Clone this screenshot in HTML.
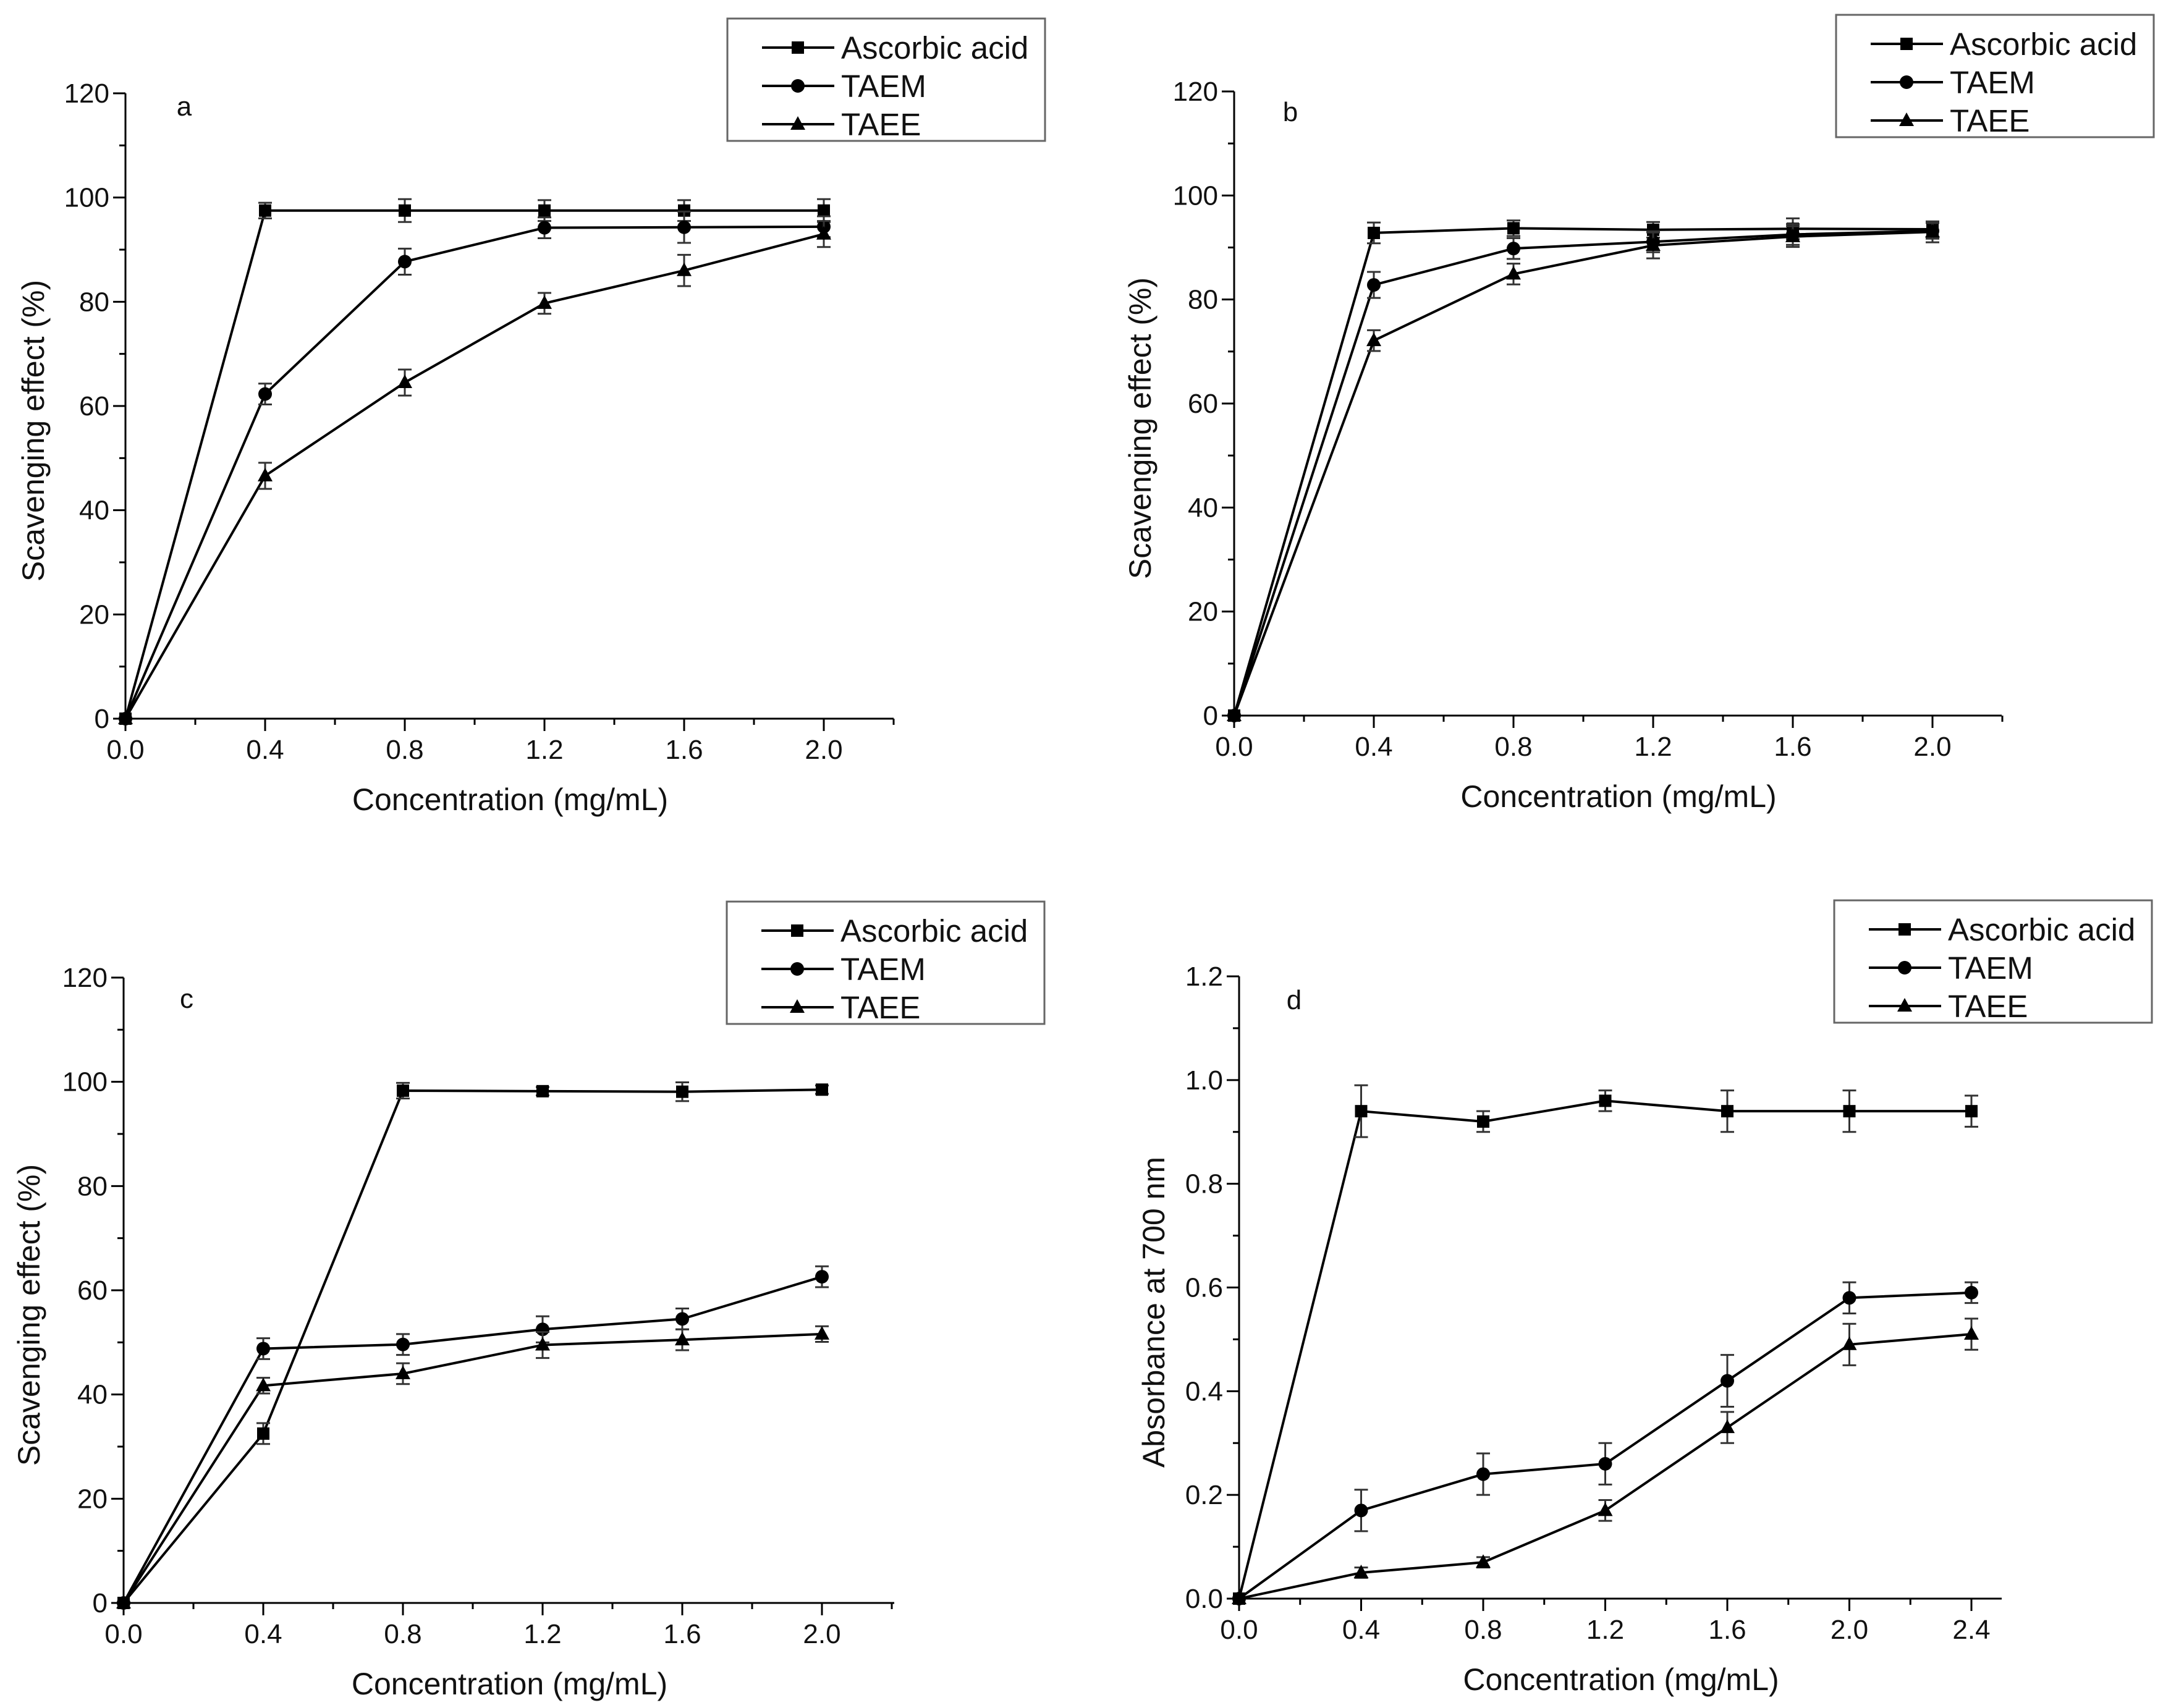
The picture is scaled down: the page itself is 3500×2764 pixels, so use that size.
<!DOCTYPE html>
<html><head><meta charset="utf-8">
<style>
html,body{margin:0;padding:0;background:#fff;}
svg{display:block;font-family:"Liberation Sans",Arial,sans-serif;}
</style></head>
<body>
<svg id="fig" width="3500" height="2764" viewBox="0 0 3500 2764" xmlns="http://www.w3.org/2000/svg">
<rect x="0" y="0" width="3500" height="2764" fill="#fff"/>
</svg>
<script>
// ---- Data ----
const xA = [0, 0.4, 0.8, 1.2, 1.6, 2.0];
const xD = [0, 0.4, 0.8, 1.2, 1.6, 2.0, 2.4];
const seriesNames = ["Ascorbic acid", "TAEM", "TAEE"];

const aAscorbic = [0, 97.5, 97.5, 97.5, 97.5, 97.5];
const aAscorbicErr = [0, 1.5, 2.2, 2.0, 2.0, 2.2];
const aTAEM = [0, 62.3, 87.7, 94.2, 94.3, 94.4];
const aTAEMErr = [0, 2.0, 2.5, 2.0, 3.0, 2.0];
const aTAEE = [0, 46.6, 64.5, 79.7, 86.0, 93.0];
const aTAEEErr = [0, 2.5, 2.5, 2.0, 3.0, 2.5];

const bAscorbic = [0, 92.8, 93.7, 93.4, 93.6, 93.5];
const bAscorbicErr = [0, 2.0, 1.5, 1.5, 2.0, 1.5];
const bTAEM = [0, 82.8, 89.8, 91.1, 92.5, 93.2];
const bTAEMErr = [0, 2.5, 2.0, 2.0, 2.0, 1.5];
const bTAEE = [0, 72.1, 84.9, 90.4, 92.1, 93.0];
const bTAEEErr = [0, 2.0, 2.0, 2.5, 2.0, 2.0];

const cAscorbic = [0, 32.5, 98.3, 98.2, 98.1, 98.5];
const cAscorbicErr = [0, 2.0, 1.5, 0.8, 1.8, 0.8];
const cTAEM = [0, 48.8, 49.6, 52.5, 54.5, 62.6];
const cTAEMErr = [0, 2.0, 2.0, 2.5, 2.0, 2.0];
const cTAEE = [0, 41.7, 44.0, 49.5, 50.5, 51.6];
const cTAEEErr = [0, 1.5, 2.0, 2.5, 2.0, 1.5];

const dAscorbic = [0, 0.94, 0.92, 0.96, 0.94, 0.94, 0.94];
const dAscorbicErr = [0, 0.05, 0.02, 0.02, 0.04, 0.04, 0.03];
const dTAEM = [0, 0.17, 0.24, 0.26, 0.42, 0.58, 0.59];
const dTAEMErr = [0, 0.04, 0.04, 0.04, 0.05, 0.03, 0.02];
const dTAEE = [0, 0.05, 0.07, 0.17, 0.33, 0.49, 0.51];
const dTAEEErr = [0, 0.01, 0.01, 0.02, 0.03, 0.04, 0.03];

const xTicksA = ["0.0","0.4","0.8","1.2","1.6","2.0"];
const xTicksD = ["0.0","0.4","0.8","1.2","1.6","2.0","2.4"];
const yTicksPct = ["0","20","40","60","80","100","120"];
const yTicksAbs = ["0.0","0.2","0.4","0.6","0.8","1.0","1.2"];

const NS = "http://www.w3.org/2000/svg";
const fig = document.getElementById('fig');
function mk(tag, attrs, parent){
  const e = document.createElementNS(NS, tag);
  for (const k in attrs) e.setAttribute(k, attrs[k]);
  (parent||fig).appendChild(e);
  return e;
}

function marker(g, kind, cx, cy){
  let m;
  if (kind === 0) m = mk('rect', {x:cx-10, y:cy-10, width:20, height:20, fill:'#000'}, g);
  else if (kind === 1) m = mk('circle', {cx:cx, cy:cy, r:11, fill:'#000'}, g);
  else m = mk('polygon', {points:`${cx},${cy-13} ${cx+12},${cy+9} ${cx-12},${cy+9}`, fill:'#000'}, g);
  return m;
}

function panel(p){
  const g = mk('g', {});
  
  
  const sx = v => p.x0 + (v - 0) / p.xStep * p.xPix;
  const sy = v => p.y0 - v / p.yMax * (p.y0 - p.yTop);
  const ax = mk('g', {}, g);
  
  
  mk('line', {x1:p.x0, y1:p.y0, x2:p.xEnd, y2:p.y0, stroke:'#000', 'stroke-width':3}, ax);
  mk('line', {x1:p.x0, y1:p.y0, x2:p.x0, y2:p.yTop, stroke:'#000', 'stroke-width':3}, ax);
  const nMinorX = Math.round((p.xEnd - p.x0) / (p.xPix / 2));
  for (let i = 0; i <= nMinorX; i++){
    const x = p.x0 + i * p.xPix / 2;
    mk('line', {x1:x, y1:p.y0, x2:x, y2:p.y0 + (i % 2 === 0 ? 20 : 10), stroke:'#000', 'stroke-width':3}, ax);
  }
  p.xTicks.forEach((t, i) => {
    const tx = mk('text', {x:sx(i*p.xStep), y:p.y0 + 65, 'font-size':44, 'text-anchor':'middle', fill:'#111'}, ax);
    
    
    tx.textContent = t;
  });
  for (let i = 0; i <= 12; i++){
    const y = p.y0 - i * (p.y0 - p.yTop) / 12;
    mk('line', {x1:p.x0, y1:y, x2:p.x0 - (i % 2 === 0 ? 20 : 10), y2:y, stroke:'#000', 'stroke-width':3}, ax);
  }
  p.yTicks.forEach((t, i) => {
    const ty = mk('text', {x:p.x0 - 26, y:p.y0 - i * (p.y0 - p.yTop) / 6 + 15, 'font-size':44, 'text-anchor':'end', fill:'#111'}, ax);
    
    
    ty.textContent = t;
  });
  const xt = mk('text', {x:(p.x0 + p.xEnd) / 2 + 1, y:p.y0 + 148, 'font-size':50, 'text-anchor':'middle', fill:'#111'}, g);
  
  
  xt.textContent = 'Concentration (mg/mL)';
  const ycy = (p.y0 + p.yTop) / 2 + 40;
  const yt = mk('text', {x:p.ytx, y:ycy, 'font-size':50, 'text-anchor':'middle', fill:'#111', transform:`rotate(-90 ${p.ytx} ${ycy})`, dy:17}, g);
  
  
  yt.textContent = p.yTitle;
  const pl = mk('text', {x:p.lx, y:p.ly + 15, 'font-size':44, 'text-anchor':'middle', fill:'#111'}, g);
  
  
  pl.textContent = p.label;
  p.series.forEach((s, k) => {
    const sg = mk('g', {}, g);
    
    
    const pts = s.v.map((v, i) => `${sx(p.xs[i])},${sy(v)}`).join(' ');
    mk('polyline', {points:pts, fill:'none', stroke:'#000', 'stroke-width':4, 'stroke-linejoin':'round'}, sg);
    s.v.forEach((v, i) => {
      const cx = sx(p.xs[i]), cy = sy(v);
      const e = s.e[i];
      if (e > 0){
        const eb = mk('path', {d:`M${cx},${sy(v-e)}V${sy(v+e)}M${cx-11},${sy(v+e)}H${cx+11}M${cx-11},${sy(v-e)}H${cx+11}`, stroke:'#333', 'stroke-width':3, fill:'none'}, sg);
        
        
      }
      const m = marker(sg, k, cx, cy);
      
      
    });
  });
  const lg = mk('g', {}, g);
  
  
  mk('rect', {x:p.legX, y:p.legY, width:514, height:198, fill:'#fff', stroke:'#666', 'stroke-width':3}, lg);
  seriesNames.forEach((n, k) => {
    const ry = p.legY + 47 + k * 62;
    const en = mk('g', {}, lg);
    
    
    mk('line', {x1:p.legX + 56, y1:ry, x2:p.legX + 173, y2:ry, stroke:'#000', 'stroke-width':4}, en);
    marker(en, k, p.legX + 114, ry);
    const t = mk('text', {x:p.legX + 184, y:ry + 18, 'font-size':51, fill:'#111'}, en);
    t.textContent = n;
  });
}

panel({label:'a', x0:203, xEnd:1446, xPix:226, xStep:0.4, y0:1163, yTop:151, yMax:120,
  xs:xA, xTicks:xTicksA, yTicks:yTicksPct, yTitle:'Scavenging effect (%)', ytx:54, lx:298, ly:172,
  legX:1177, legY:30,
  series:[{v:aAscorbic,e:aAscorbicErr},{v:aTAEM,e:aTAEMErr},{v:aTAEE,e:aTAEEErr}]});
panel({label:'b', x0:1997, xEnd:3239, xPix:226, xStep:0.4, y0:1158, yTop:148, yMax:120,
  xs:xA, xTicks:xTicksA, yTicks:yTicksPct, yTitle:'Scavenging effect (%)', ytx:1845, lx:2088, ly:181,
  legX:2971, legY:24,
  series:[{v:bAscorbic,e:bAscorbicErr},{v:bTAEM,e:bTAEMErr},{v:bTAEE,e:bTAEEErr}]});
panel({label:'c', x0:200, xEnd:1447, xPix:226, xStep:0.4, y0:2594, yTop:1582, yMax:120,
  xs:xA, xTicks:xTicksA, yTicks:yTicksPct, yTitle:'Scavenging effect (%)', ytx:47, lx:302, ly:1616,
  legX:1176, legY:1459,
  series:[{v:cAscorbic,e:cAscorbicErr},{v:cTAEM,e:cTAEMErr},{v:cTAEE,e:cTAEEErr}]});
panel({label:'d', x0:2005, xEnd:3239, xPix:197.5, xStep:0.4, y0:2587, yTop:1580, yMax:1.2,
  xs:xD, xTicks:xTicksD, yTicks:yTicksAbs, yTitle:'Absorbance at 700 nm', ytx:1867, lx:2094, ly:1618,
  legX:2968, legY:1457,
  series:[{v:dAscorbic,e:dAscorbicErr},{v:dTAEM,e:dTAEMErr},{v:dTAEE,e:dTAEEErr}]});
</script>
</body></html>
